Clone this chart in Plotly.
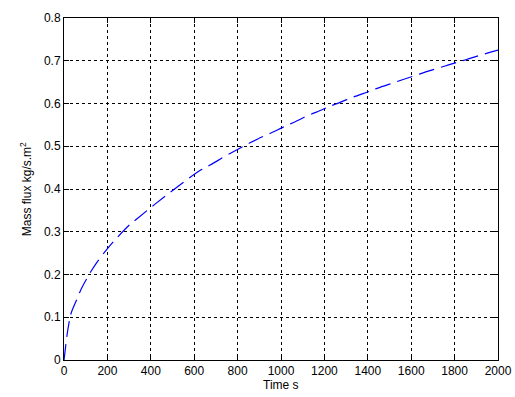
import plotly.graph_objects as go

time_s = [0, 3, 15, 28, 35, 66, 81, 124, 147, 204, 235, 304, 338, 418, 559, 636, 673,
          747, 780, 857, 893, 971, 1003, 1080, 1112, 1192, 1223, 1269, 1303, 1333,
          1410, 1446, 1522, 1556, 1633, 1667, 1745, 1776, 1856, 1886, 1966, 2000]
mass_flux = [0.0, 0.012, 0.062, 0.100, 0.113, 0.150, 0.168, 0.207, 0.225, 0.263, 0.281,
             0.317, 0.331, 0.364, 0.419, 0.446, 0.456, 0.478, 0.487, 0.508, 0.517,
             0.535, 0.543, 0.561, 0.569, 0.586, 0.593, 0.602, 0.609, 0.615, 0.629,
             0.636, 0.649, 0.655, 0.668, 0.674, 0.686, 0.691, 0.703, 0.708, 0.720, 0.725]

x_ticks = list(range(0, 2001, 200))
y_ticks = [0, 0.1, 0.2, 0.3, 0.4, 0.5, 0.6, 0.7, 0.8]
y_tick_labels = ["0", "0.1", "0.2", "0.3", "0.4", "0.5", "0.6", "0.7", "0.8"]

fig = go.Figure()
fig.add_trace(go.Scatter(
    x=time_s, y=mass_flux, mode="lines",
    line=dict(color="rgb(0,0,255)", width=1.2, dash="16px,7px", shape="spline"),
    showlegend=False,
))

axis_common = dict(
    showline=True, linecolor="black", linewidth=1, mirror="allticks",
    ticks="inside", ticklen=5, tickcolor="black", tickwidth=1,
    showgrid=True, gridcolor="black", gridwidth=1, griddash="3px,3px",
    zeroline=False, automargin=False,
    tickfont=dict(family="Liberation Sans, Arial, sans-serif", size=12, color="black"),
)

fig.update_layout(
    width=515, height=397, autosize=False,
    margin=dict(l=64, r=17, t=18, b=37, autoexpand=False),
    paper_bgcolor="white", plot_bgcolor="white",
    font=dict(family="Liberation Sans, Arial, sans-serif", size=12, color="black"),
    xaxis=dict(range=[0, 2000], tickvals=x_ticks, **axis_common),
    yaxis=dict(range=[0, 0.8], tickvals=y_ticks, ticktext=y_tick_labels, **axis_common),
    annotations=[
        dict(text="Time s", x=0.5, y=-0.073, xref="paper", yref="paper",
             xanchor="center", yanchor="middle", showarrow=False,
             font=dict(size=12, color="black")),
        dict(text="Mass flux kg/s.m<sup>2</sup>", x=-0.087, y=0.5, xref="paper", yref="paper",
             xanchor="center", yanchor="middle", textangle=-90, showarrow=False,
             font=dict(size=12, color="black")),
    ],
)

fig.write_html("out.html", config={"displayModeBar": False, "responsive": False},
               post_script="document.body.style.margin='0';")
